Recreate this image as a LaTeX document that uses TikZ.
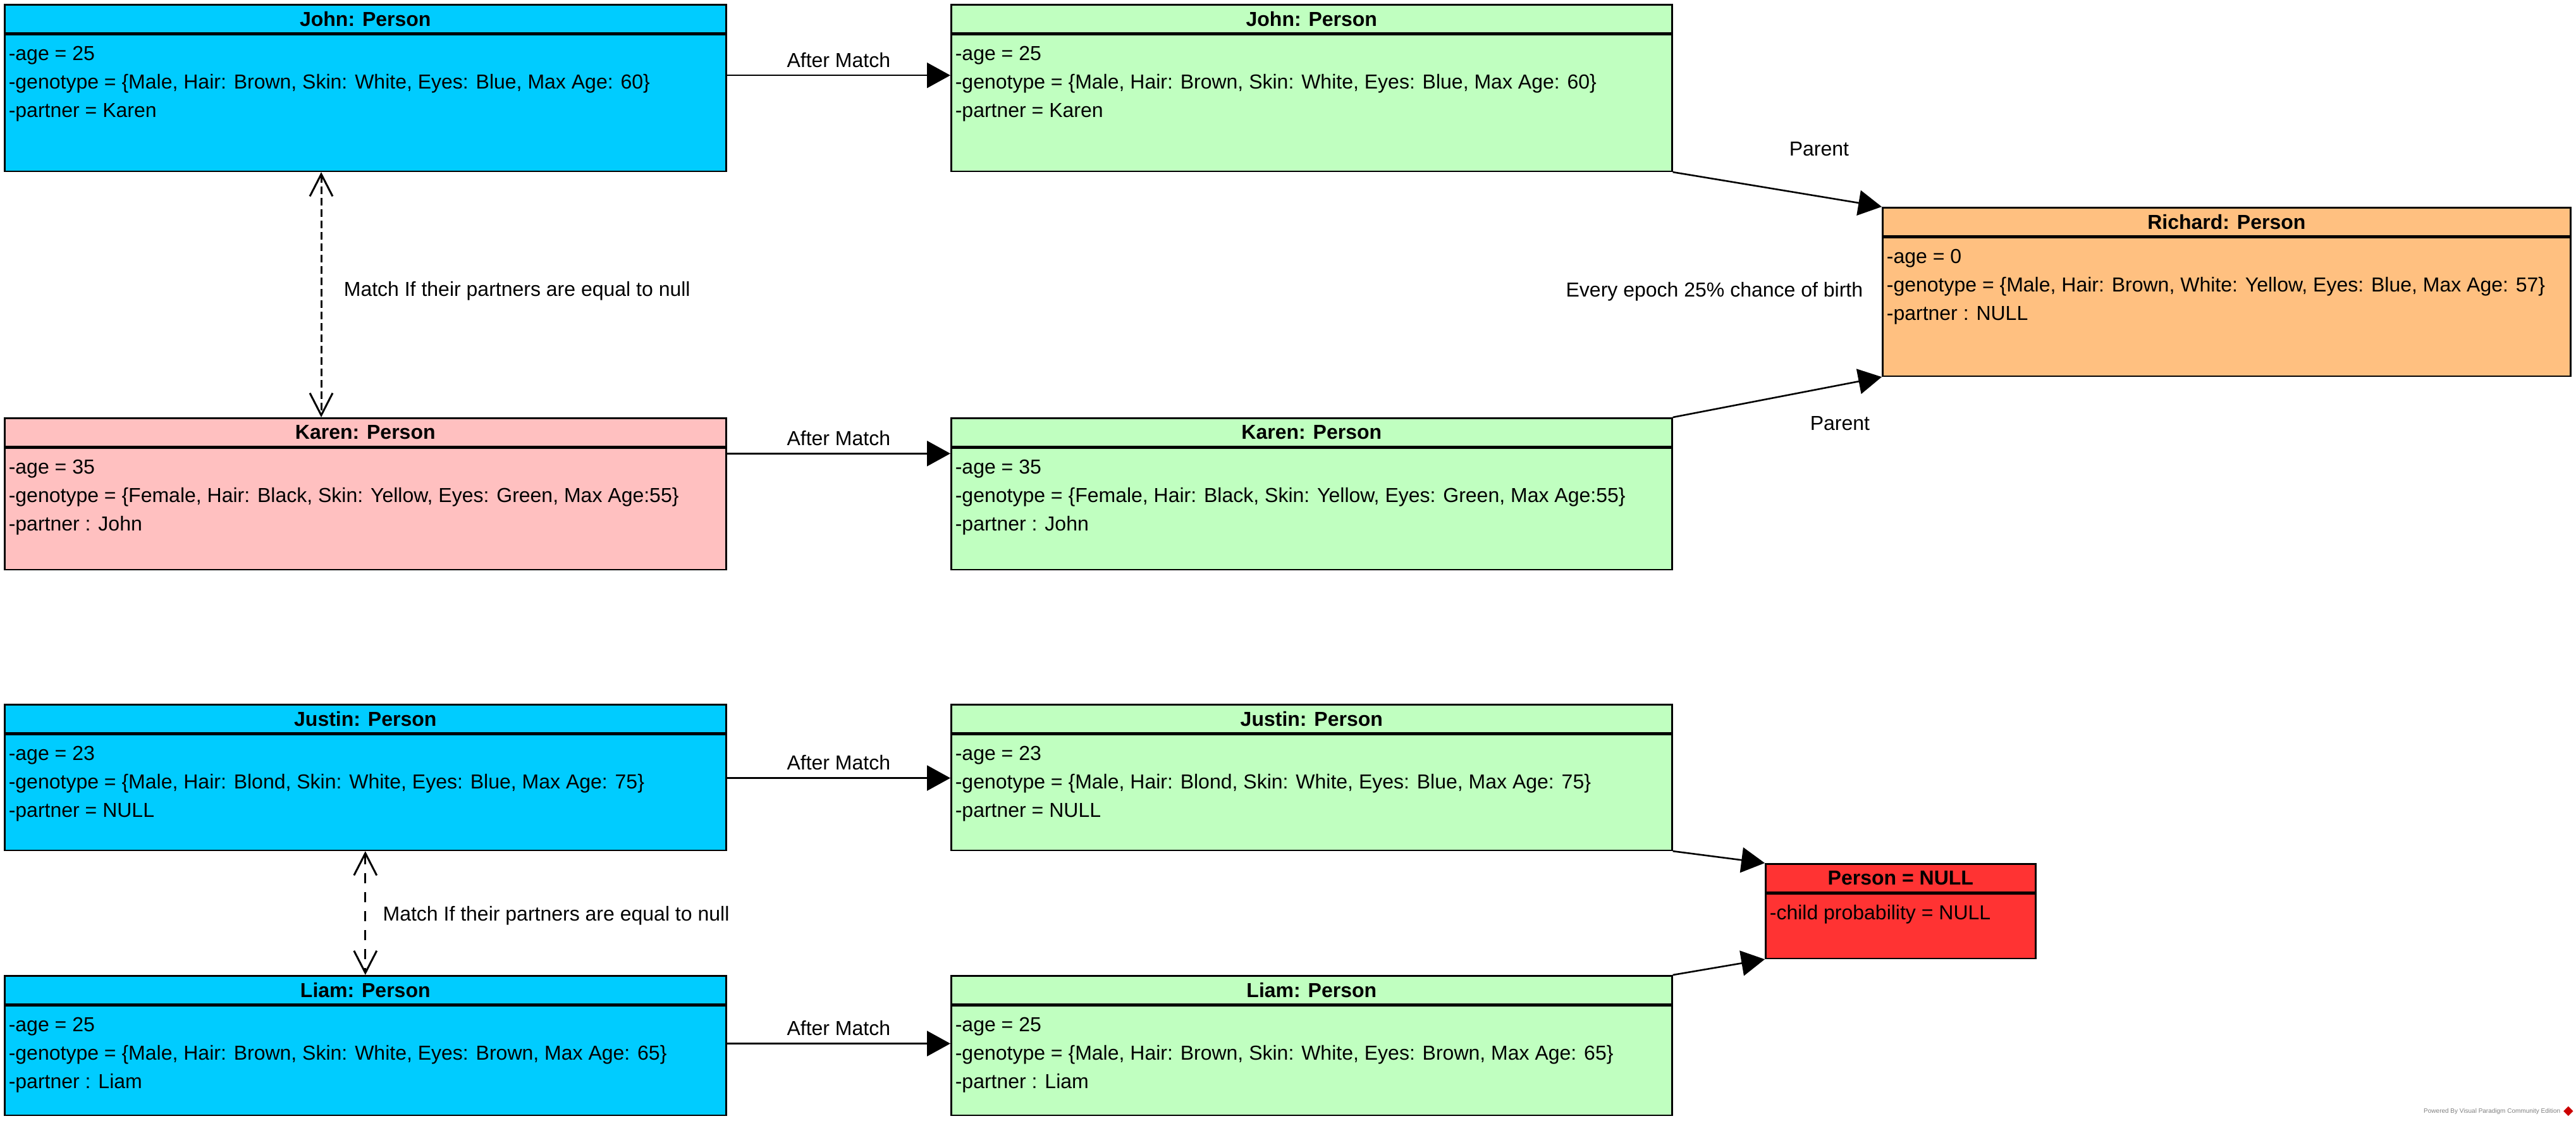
\documentclass[tikz,border=0pt]{standalone}
\usepackage{amsmath}
\usepackage{xcolor}
\usepackage{fontspec}
\setmainfont{Liberation Sans}
\usepackage{tikz}
\usetikzlibrary{
	calc,
	arrows.meta,
	shapes,
	positioning
	}
\definecolor{bleuvp}{RGB}{0,204,255}
\definecolor{vertvp}{RGB}{192,255,192}
\definecolor{rosevp}{RGB}{255,192,192}
\definecolor{orangevp}{RGB}{255,192,128}
\definecolor{rougevp}{RGB}{255,51,51}
\tikzstyle{entete}=[draw,line width=0.65pt,anchor=north west,minimum height=11.25pt,inner sep=0pt,font=\fontsize{8}{11.25}\selectfont\bfseries]
\tikzstyle{corps}=[draw,line width=0.65pt,inner sep=0pt]
\tikzstyle{attributs}=[align=left,inner sep=0pt]
\tikzstyle{etiquette}=[inner sep=1pt]
\tikzstyle{fleche-pleine}=[line width=0.65pt,-{Triangle[length=9.25pt,width=10pt]}]
\tikzstyle{lien-match}=[line width=0.75pt,{Straight Barb[length=8.75pt,width=9pt]}-{Straight Barb[length=8.75pt,width=9pt]}]

\begin{document}
\begin{tikzpicture}[font=\fontsize{8}{11.25}\selectfont]
\useasboundingbox (0,0) rectangle (1018.5pt,-443.25pt);

\node[entete,fill=bleuvp,minimum width=285.25pt] (john1) at (1.5pt,-1.5pt) {John: Person};
\node[corps,fill=bleuvp,minimum width=285.25pt,minimum height=54pt,below=0pt of john1] (john1b) {};
\node[attributs,below right=2.4pt and 1.75pt of john1b.north west] (john1t) {\strut-age = 25\\-genotype = \{Male, Hair: Brown, Skin: White, Eyes: Blue, Max Age: 60\}\\-partner = Karen};

\node[entete,fill=rosevp,minimum width=285.25pt] (karen1) at (1.5pt,-165pt) {Karen: Person};
\node[corps,fill=rosevp,minimum width=285.25pt,minimum height=48pt,below=0pt of karen1] (karen1b) {};
\node[attributs,below right=2.4pt and 1.75pt of karen1b.north west] (karen1t) {\strut-age = 35\\-genotype = \{Female, Hair: Black, Skin: Yellow, Eyes: Green, Max Age:55\}\\-partner : John};

\node[entete,fill=vertvp,minimum width=285pt] (john2) at (375.75pt,-1.5pt) {John: Person};
\node[corps,fill=vertvp,minimum width=285pt,minimum height=54pt,below=0pt of john2] (john2b) {};
\node[attributs,below right=2.4pt and 1.75pt of john2b.north west] (john2t) {\strut-age = 25\\-genotype = \{Male, Hair: Brown, Skin: White, Eyes: Blue, Max Age: 60\}\\-partner = Karen};

\node[entete,fill=vertvp,minimum width=285pt] (karen2) at (375.75pt,-165pt) {Karen: Person};
\node[corps,fill=vertvp,minimum width=285pt,minimum height=48pt,below=0pt of karen2] (karen2b) {};
\node[attributs,below right=2.4pt and 1.75pt of karen2b.north west] (karen2t) {\strut-age = 35\\-genotype = \{Female, Hair: Black, Skin: Yellow, Eyes: Green, Max Age:55\}\\-partner : John};

\node[entete,fill=orangevp,minimum width=272pt] (rich) at (744pt,-81.75pt) {Richard: Person};
\node[corps,fill=orangevp,minimum width=272pt,minimum height=54.75pt,below=0pt of rich] (richb) {};
\node[attributs,below right=2.4pt and 1.75pt of richb.north west] (richt) {\strut-age = 0\\-genotype = \{Male, Hair: Brown, White: Yellow, Eyes: Blue, Max Age: 57\}\\-partner : NULL};

\node[entete,fill=bleuvp,minimum width=285.25pt] (justin1) at (1.5pt,-278.25pt) {Justin: Person};
\node[corps,fill=bleuvp,minimum width=285.25pt,minimum height=45.75pt,below=0pt of justin1] (justin1b) {};
\node[attributs,below right=2.4pt and 1.75pt of justin1b.north west] (justin1t) {\strut-age = 23\\-genotype = \{Male, Hair: Blond, Skin: White, Eyes: Blue, Max Age: 75\}\\-partner = NULL};

\node[entete,fill=bleuvp,minimum width=285.25pt] (liam1) at (1.5pt,-385.5pt) {Liam: Person};
\node[corps,fill=bleuvp,minimum width=285.25pt,minimum height=43.25pt,below=0pt of liam1] (liam1b) {};
\node[attributs,below right=2.4pt and 1.75pt of liam1b.north west] (liam1t) {\strut-age = 25\\-genotype = \{Male, Hair: Brown, Skin: White, Eyes: Brown, Max Age: 65\}\\-partner : Liam};

\node[entete,fill=vertvp,minimum width=285pt] (justin2) at (375.75pt,-278.25pt) {Justin: Person};
\node[corps,fill=vertvp,minimum width=285pt,minimum height=45.75pt,below=0pt of justin2] (justin2b) {};
\node[attributs,below right=2.4pt and 1.75pt of justin2b.north west] (justin2t) {\strut-age = 23\\-genotype = \{Male, Hair: Blond, Skin: White, Eyes: Blue, Max Age: 75\}\\-partner = NULL};

\node[entete,fill=vertvp,minimum width=285pt] (liam2) at (375.75pt,-385.5pt) {Liam: Person};
\node[corps,fill=vertvp,minimum width=285pt,minimum height=43.25pt,below=0pt of liam2] (liam2b) {};
\node[attributs,below right=2.4pt and 1.75pt of liam2b.north west] (liam2t) {\strut-age = 25\\-genotype = \{Male, Hair: Brown, Skin: White, Eyes: Brown, Max Age: 65\}\\-partner : Liam};

\node[entete,fill=rougevp,minimum width=106.75pt] (null) at (697.75pt,-341.25pt) {Person = NULL};
\node[corps,fill=rougevp,minimum width=106.75pt,minimum height=25.5pt,below=0pt of null] (nullb) {};
\node[attributs,below right=2.4pt and 1.75pt of nullb.north west] (nullt) {\strut-child probability = NULL};

% after match
\coordinate (am1) at ($(john1b.north east)!0.3!(john1b.south east)$);
\coordinate (am2) at (am1 -| john2b.west);
\coordinate (am3) at ($(karen1b.north east)!0.05!(karen1b.south east)$);
\coordinate (am4) at (am3 -| karen2b.west);
\coordinate (am5) at ($(justin1b.north east)!0.377!(justin1b.south east)$);
\coordinate (am6) at (am5 -| justin2b.west);
\coordinate (am7) at ($(liam1b.north east)!0.347!(liam1b.south east)$);
\coordinate (am8) at (am7 -| liam2b.west);
\draw[fleche-pleine] (am1) -- (am2);
\draw[fleche-pleine] (am3) -- (am4);
\draw[fleche-pleine] (am5) -- (am6);
\draw[fleche-pleine] (am7) -- (am8);
\node[etiquette,above=2pt] (lab1) at ($(am1)!0.5!(am2)$) {After Match};
\node[etiquette,above=2pt] (lab2) at ($(am3)!0.5!(am4)$) {After Match};
\node[etiquette,above=2pt] (lab3) at ($(am5)!0.5!(am6)$) {After Match};
\node[etiquette,above=2pt] (lab4) at ($(am7)!0.5!(am8)$) {After Match};

\draw[fleche-pleine] (john2b.south east) -- (rich.north west);
\draw[fleche-pleine] (karen2.north east) -- (richb.south west);
\draw[fleche-pleine] (justin2b.south east) -- (null.north west);
\draw[fleche-pleine] (liam2.north east) -- (nullb.south west);
\node[etiquette,above=14.75pt] (parent1) at ($(john2b.south east)!0.7!(rich.north west)$) {Parent};
\node[etiquette,below=11.25pt] (parent2) at ($(karen2.north east)!0.8!(richb.south west)$) {Parent};
\node[etiquette,left=6.25pt] (epoque) at ($(richb.north west)!0.39!(richb.south west)$) {Every epoch 25\% chance of birth};

\coordinate (mt1) at ($(john1b.south west)!0.439!(john1b.south east)$);
\coordinate (mt2) at (mt1 |- karen1.north);
\draw[lien-match,dash pattern=on 3pt off 1.5pt] (mt1) -- (mt2);
\node[etiquette,right=7.75pt] (regle1) at ($(mt1)!0.485!(mt2)$) {Match If their partners are equal to null};
\draw[lien-match,dash pattern=on 4pt off 3.5pt] (justin1b.south) -- (liam1.north);
\node[etiquette,right=5.75pt] (regle2) at ($(justin1b.south)!0.52!(liam1.north)$) {Match If their partners are equal to null};

\node[anchor=base east,inner sep=0pt,text=gray,font=\fontsize{2.5}{3}\selectfont] (vp) at (1012.5pt,-440pt) {Powered By Visual Paradigm Community Edition};
\node[diamond,fill=red!80!black,inner sep=0pt,minimum size=4pt,right=0.75pt of vp.east] (vplogo) {};
\end{tikzpicture}
\end{document}
